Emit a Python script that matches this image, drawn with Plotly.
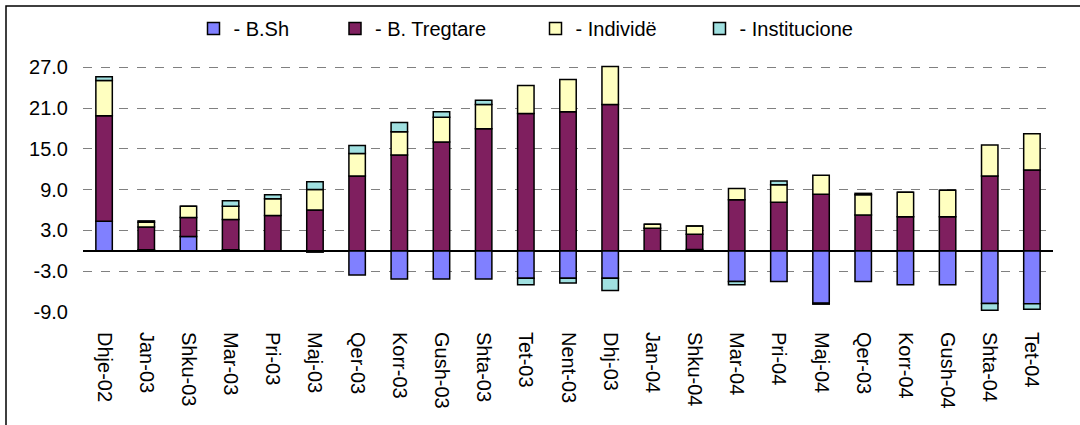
import plotly.graph_objects as go

categories = ["Dhje-02", "Jan-03", "Shku-03", "Mar-03", "Pri-03", "Maj-03", "Qer-03",
              "Korr-03", "Gush-03", "Shta-03", "Tet-03", "Nent-03", "Dhj-03", "Jan-04",
              "Shku-04", "Mar-04", "Pri-04", "Maj-04", "Qer-03", "Korr-04", "Gush-04",
              "Shta-04", "Tet-04"]

b_sh = [4.35, 0.15, 2.1, 0.15, 0.0, -0.2, -3.55, -4.15, -4.15, -4.15, -4.05, -4.05,
        -4.05, 0.0, 0.2, -4.5, -4.5, -7.7, -4.5, -5.0, -5.0, -7.75, -7.8]
b_tregtare = [15.5, 3.35, 2.8, 4.45, 5.2, 6.0, 11.0, 14.1, 16.0, 17.95, 20.2, 20.45,
              21.5, 3.3, 2.25, 7.5, 7.15, 8.3, 5.25, 5.0, 5.0, 11.0, 11.9]
individe = [5.2, 0.7, 1.65, 1.95, 2.45, 3.0, 3.3, 3.4, 3.65, 3.55, 4.1, 4.75, 5.6,
            0.6, 1.2, 1.65, 2.55, 2.8, 3.0, 3.6, 3.9, 4.55, 5.3]
institucione = [0.55, 0.2, 0.0, 0.8, 0.6, 1.15, 1.2, 1.35, 0.8, 0.65, -0.95, -0.7,
                -1.8, 0.0, 0.0, -0.5, 0.55, -0.15, 0.2, 0.0, 0.0, -1.0, -0.8]

series_names = ["- B.Sh", "- B. Tregtare", "- Individë", "- Institucione"]
series_colors = ["#8080FF", "#7F1F5F", "#FFFFC0", "#A0E0E0"]

tick_vals = [-9, -3, 3, 9, 15, 21, 27]
tick_text = ["-9.0", "-3.0", "3.0", "9.0", "15.0", "21.0", "27.0"]

x_idx = list(range(len(categories)))

W, H = 1080, 425
L, R, T, B = 83, 27, 40, 113
pw = W - L - R
ph = H - T - B


def px_x(p):
    return (p - L) / pw


def px_y(p):
    return (H - B - p) / ph


legend_ids = ["legend", "legend2", "legend3", "legend4"]
legend_marker_px = [211.5, 353, 553.5, 717.5]

fig = go.Figure()
for name, vals, col, lid in zip(series_names, [b_sh, b_tregtare, individe, institucione],
                                series_colors, legend_ids):
    fig.add_trace(go.Bar(
        x=x_idx, y=vals, name=name, width=0.39, legend=lid,
        marker=dict(color=col, line=dict(color="black", width=1.5)),
    ))

fig.add_shape(type="rect", xref="paper", yref="paper",
              x0=px_x(6), x1=px_x(1090), y0=px_y(440), y1=px_y(6),
              line=dict(color="black", width=1.5), fillcolor="rgba(0,0,0,0)", layer="below")

legend_layout = {}
for lid, mx in zip(legend_ids, legend_marker_px):
    legend_layout[lid] = dict(orientation="h", x=px_x(mx - 18), xanchor="left",
                              y=px_y(28.5), yanchor="middle", font=dict(size=20),
                              bgcolor="rgba(0,0,0,0)", itemwidth=30)

fig.update_layout(
    width=W, height=H,
    margin=dict(l=L, r=R, t=T, b=B, autoexpand=False),
    barmode="relative",
    paper_bgcolor="white", plot_bgcolor="white",
    font=dict(family="Liberation Sans, Arial, sans-serif", size=20, color="black"),
    showlegend=True,
    xaxis=dict(range=[-0.5, len(categories) - 0.5], tickmode="array", tickvals=x_idx,
               ticktext=categories, tickangle=90, showgrid=False, zeroline=False,
               showline=False, ticks="", tickfont=dict(size=20), ticklabelstandoff=19,
               automargin=False),
    yaxis=dict(range=[-9, 31], tickmode="array", tickvals=tick_vals, ticktext=tick_text,
               showgrid=True, gridcolor="#808080", griddash="dash", gridwidth=1,
               zeroline=True, zerolinecolor="black", zerolinewidth=2,
               showline=False, ticks="", tickfont=dict(size=20), ticklabelstandoff=14,
               automargin=False),
    **legend_layout,
)

fig.write_html("out.html", config={"displayModeBar": False},
               post_script="document.body.style.margin='0';")
